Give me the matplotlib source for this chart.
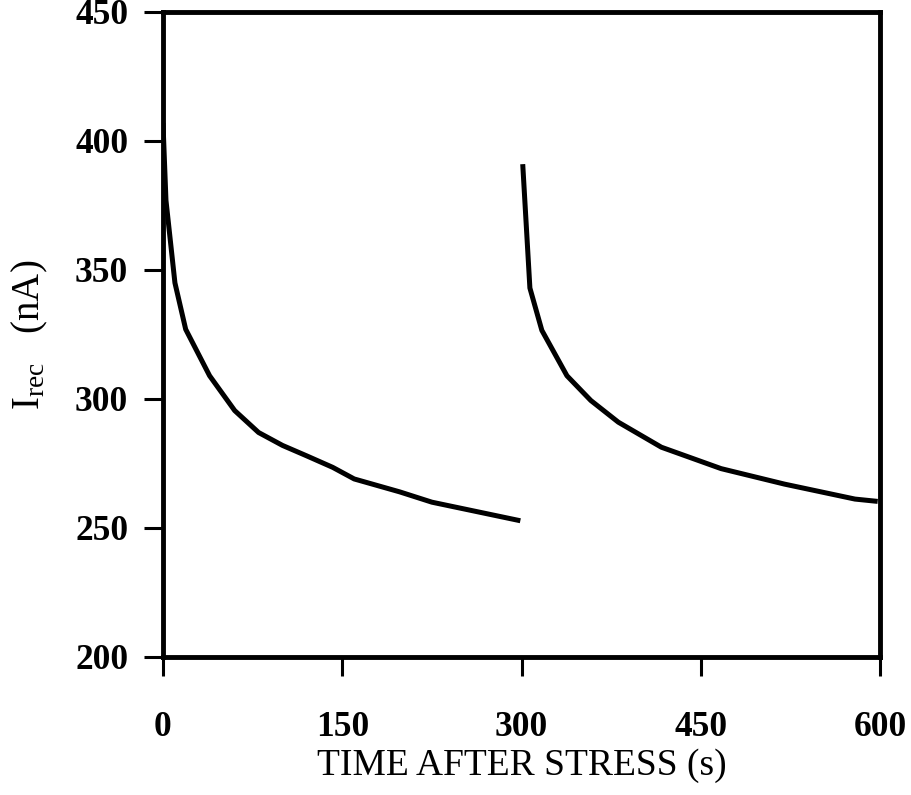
import matplotlib
matplotlib.use("Agg")
import matplotlib.pyplot as plt

plt.rcParams['font.family'] = ['Liberation Serif', 'DejaVu Serif']
plt.rcParams['mathtext.fontset'] = 'custom'
plt.rcParams['mathtext.rm'] = 'Liberation Serif'
plt.rcParams['mathtext.it'] = 'Liberation Serif:italic'
plt.rcParams['mathtext.bf'] = 'Liberation Serif:bold'

# first stress recovery
t1 = [0, 2.5, 10, 19, 39, 60, 80, 100, 120, 142, 160, 198, 225, 299]
i1 = [407, 377, 345, 327, 309, 295.5, 287, 282, 278, 273.5, 269, 264, 260, 252.8]
# second stress recovery
t2 = [301, 307, 317, 338, 358, 381, 417, 467, 520, 579, 598]
i2 = [391, 343, 326.6, 309, 299.4, 291, 281.3, 273, 267, 261.2, 260.3]

xticks = [0, 150, 300, 450, 600]
yticks = [200, 250, 300, 350, 400, 450]

fig = plt.figure(figsize=(9.12, 7.95), dpi=100)
ax = fig.add_axes([0.1787, 0.1736, 0.7863, 0.8114])

ax.plot(t1, i1, color='black', lw=3.6, solid_joinstyle='round', solid_capstyle='butt')
ax.plot(t2, i2, color='black', lw=3.6, solid_joinstyle='round', solid_capstyle='butt')

ax.set_xlim(0, 600)
ax.set_ylim(200, 450)
ax.set_xticks(xticks)
ax.set_yticks(yticks)
ax.set_xticklabels([str(v) for v in xticks], fontsize=25.5, fontweight='bold')
ax.set_yticklabels([str(v) for v in yticks], fontsize=25.5, fontweight='bold')
ax.tick_params(axis='both', direction='out', length=14, width=2.2, color='black')
ax.tick_params(axis='x', pad=25)
ax.tick_params(axis='y', pad=11)
for sp in ax.spines.values():
    sp.set_linewidth(3.5)

ax.set_xlabel('TIME AFTER STRESS (s)', fontsize=27, labelpad=3)
ax.set_ylabel(r'I$_{\rm rec}$   (nA)', fontsize=28, labelpad=18)

fig.savefig('out.png', dpi=100)
